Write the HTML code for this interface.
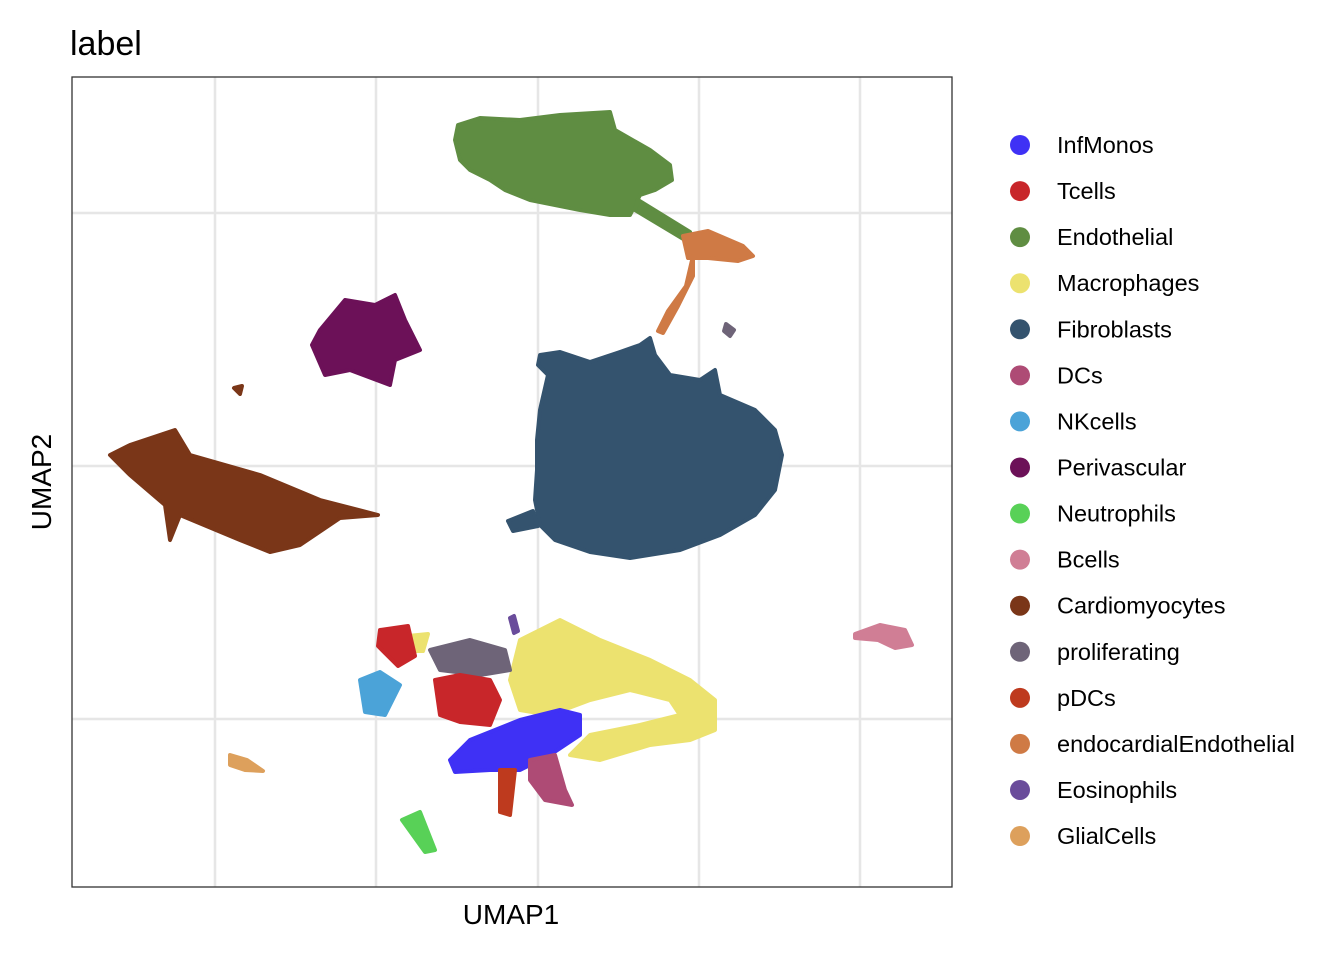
<!DOCTYPE html>
<html><head><meta charset="utf-8"><style>
body{margin:0;background:#fff;font-family:"Liberation Sans",Arial,sans-serif;}
svg text{font-family:"Liberation Sans",Arial,sans-serif;}
</style></head><body>
<svg id="chart" width="1344" height="960" xmlns="http://www.w3.org/2000/svg">
<rect width="1344" height="960" fill="#fff"/>
<text x="70" y="55" font-size="34" fill="#000">label</text>
<g id="grid"></g>
<g id="marks"></g>
<rect x="72" y="77" width="880" height="810" fill="none" stroke="#333" stroke-width="1.3"/>
<text x="511" y="924" font-size="28" text-anchor="middle">UMAP1</text>
<text transform="translate(51,482) rotate(-90)" font-size="28" text-anchor="middle">UMAP2</text>
<g id="legend"></g>
</svg>
<script>
const categories=["InfMonos","Tcells","Endothelial","Macrophages","Fibroblasts","DCs","NKcells","Perivascular","Neutrophils","Bcells","Cardiomyocytes","proliferating","pDCs","endocardialEndothelial","Eosinophils","GlialCells"];
const colors=["#3F31F5","#C8262A","#5F8D42","#ECE26F","#34536E","#AE4B75","#4BA3D8","#6C1158","#58D157","#D07E95","#7A3618","#6E6478","#BE3A1E","#CF7A45","#6A4C9B","#DDA05C"];
const gridX=[-32.3,-16.2,0,16.1,32.2];
const gridY=[25.3,0,-25.3];
// cluster outlines in UMAP-like units
const fibroblasts=[[0.2,11.1],[2.2,11.4],[5.2,10.4],[8.2,11.4],[10.2,12.1],[11.2,12.8],[11.7,11.1],[13.2,9.1],[16.2,8.6],[17.7,9.6],[18.2,7.1],[21.7,5.6],[23.7,3.6],[24.4,1.1],[23.7,-2.4],[21.7,-4.9],[18.2,-6.9],[14.2,-8.4],[9.2,-9.2],[5.2,-8.6],[1.7,-7.4],[0.2,-5.9],[-0.3,-3.4],[-0.1,-0.4],[-0.1,2.6],[0.2,5.6],[1,9.1],[0,10.1]];
const fibroTail=[[-0.5,-4.5],[-3,-5.5],[-2.5,-6.5],[0,-6]];
const endothelial=[[-8,34.1],[-5.8,34.8],[-1.8,34.6],[2.2,35.1],[7.2,35.4],[7.7,33.6],[11.2,31.6],[13.2,30.1],[13.4,28.6],[11.7,27.6],[10.2,27.1],[9.2,25.1],[7.2,25.1],[4.2,25.6],[1.7,26.1],[-0.8,26.6],[-3.3,27.6],[-4.8,28.6],[-6.8,29.6],[-7.8,30.6],[-8.3,32.6]];
const endoBridge=[[10,26.6],[15.2,23.4],[14.7,22.6],[9.7,25.6]];
const endocardial=[[14.5,23],[17,23.5],[20.5,22],[21.5,21],[20,20.5],[17,20.8],[15,20.8]];
const endocardialTail=[[15.5,21],[14.8,18],[13,15.5],[12,13.5],[12.5,13.3],[14,16],[15.5,19]];
const perivascular=[[-21.8,13.6],[-19.3,16.6],[-16.3,16.1],[-14.3,17.1],[-13.3,14.6],[-11.8,11.6],[-14.3,10.6],[-14.8,8.1],[-18.8,9.6],[-21.3,9.1],[-22.6,12.1]];
const cardiomyocytes=[[-42.8,1.1],[-40.8,2.1],[-36.3,3.6],[-34.8,1.1],[-27.8,-0.9],[-21.8,-3.4],[-16,-4.9],[-19.8,-5.2],[-23.8,-7.9],[-26.8,-8.6],[-29.8,-7.4],[-35.8,-4.9],[-36.8,-7.4],[-37.3,-3.9],[-40.8,-0.9]];
const cardioDot=[[-30.4,7.8],[-29.6,8.0],[-29.8,7.2]];
const macrophages=[[-1.8,-17.4],[2.2,-15.4],[6.2,-17.4],[11.2,-19.4],[15.2,-21.4],[17.7,-23.4],[17.7,-26.4],[15.2,-27.4],[11.2,-27.9],[6.2,-29.4],[3.2,-28.9],[5.2,-26.9],[10.2,-25.9],[14.2,-24.9],[13.2,-23.4],[9.2,-22.4],[5.2,-23.4],[1.2,-24.9],[-1.8,-24.4],[-2.8,-21.4]];
const macroLeft=[[-13,-17],[-11,-16.8],[-11.5,-18.5],[-13.5,-18.5]];
const proliferating=[[-10.8,-18.4],[-6.8,-17.4],[-3.3,-18.4],[-2.8,-20.4],[-5.8,-20.9],[-9.8,-20.4]];
const prolifSmall=[[18.8,14.2],[19.6,13.6],[19.2,13.0],[18.6,13.5]];
const tcells=[[-10.3,-21.4],[-7.8,-20.9],[-4.8,-21.4],[-3.8,-23.4],[-4.8,-25.9],[-7.8,-25.6],[-9.8,-24.9]];
const tcellsTop=[[-15.8,-16.4],[-13,-16],[-12.3,-19],[-14,-20],[-16,-18]];
const nkcells=[[-17.8,-21.4],[-15.8,-20.6],[-13.8,-21.9],[-15.3,-24.9],[-17.3,-24.6]];
const infmonos=[[-8.8,-29.4],[-6.8,-27.4],[-1.8,-25.4],[2.2,-24.4],[4.2,-24.9],[4.2,-26.9],[1.2,-28.9],[-1.8,-30.4],[-4.8,-30.4],[-8.3,-30.6]];
const dcs=[[-0.8,-29.4],[1.7,-28.9],[2.7,-32.4],[3.4,-33.9],[0.7,-33.4],[-0.8,-31.4]];
const pdcs=[[-3.8,-30.4],[-2.3,-30.4],[-2.8,-34.9],[-3.8,-34.6]];
const neutrophils=[[-13.6,-35.4],[-11.8,-34.6],[-10.3,-38.4],[-11.3,-38.6]];
const glial=[[-30.8,-28.9],[-29.1,-29.4],[-27.5,-30.5],[-29.3,-30.4],[-30.8,-29.9]];
const bcells=[[34.2,-15.9],[36.7,-16.4],[37.4,-17.9],[35.7,-18.2],[34,-17.4],[31.7,-17.2],[31.7,-16.8]];
const eosinophils=[[-2.8,-15.2],[-2.4,-15.0],[-2.0,-16.5],[-2.4,-16.7]];
// [outline, category index]
const shapes=[[fibroblasts,4],[fibroTail,4],[endothelial,2],[endoBridge,2],[endocardial,13],[endocardialTail,13],[perivascular,7],[cardiomyocytes,10],[cardioDot,10],[macrophages,3],[macroLeft,3],[proliferating,11],[prolifSmall,11],[tcells,1],[tcellsTop,1],[nkcells,6],[infmonos,0],[dcs,5],[pdcs,12],[neutrophils,8],[glial,15],[bcells,9],[eosinophils,14]];

const X=v=>538+v*10, Y=v=>466-v*10;
const NS="http://www.w3.org/2000/svg";
const grid=document.getElementById('grid');
gridX.forEach(g=>{const l=document.createElementNS(NS,'line');


l.setAttribute('x1',X(g));l.setAttribute('x2',X(g));l.setAttribute('y1',77);l.setAttribute('y2',887);l.setAttribute('stroke','#e6e6e6');l.setAttribute('stroke-width','2.5');grid.appendChild(l);});
gridY.forEach(g=>{const l=document.createElementNS(NS,'line');


l.setAttribute('y1',Y(g));l.setAttribute('y2',Y(g));l.setAttribute('x1',72);l.setAttribute('x2',952);l.setAttribute('stroke','#e6e6e6');l.setAttribute('stroke-width','2.5');grid.appendChild(l);});
const marks=document.getElementById('marks');
shapes.forEach(([pts,ci])=>{const p=document.createElementNS(NS,'polygon');


p.setAttribute('points',pts.map(q=>X(q[0])+','+Y(q[1])).join(' '));
p.setAttribute('fill',colors[ci]);p.setAttribute('stroke',colors[ci]);p.setAttribute('stroke-width','4');p.setAttribute('stroke-linejoin','round');marks.appendChild(p);});
const leg=document.getElementById('legend');
categories.forEach((c,i)=>{const y=145+i*46.07;
const g=document.createElementNS(NS,'g');


const ci=document.createElementNS(NS,'circle');ci.setAttribute('cx',1020);ci.setAttribute('cy',y);ci.setAttribute('r',10);ci.setAttribute('fill',colors[i]);
const t=document.createElementNS(NS,'text');t.setAttribute('x',1057);t.setAttribute('y',y+8);t.setAttribute('font-size','23.5');t.textContent=c;
g.appendChild(ci);g.appendChild(t);leg.appendChild(g);});
</script>
</body></html>
